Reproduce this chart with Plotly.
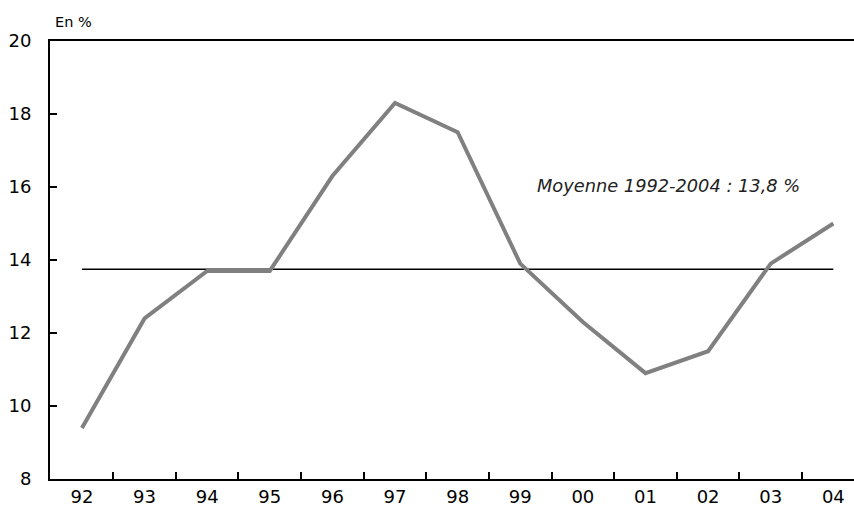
import plotly.graph_objects as go

years = ["92", "93", "94", "95", "96", "97", "98", "99", "00", "01", "02", "03", "04"]
values = [9.4, 12.4, 13.7, 13.7, 16.3, 18.3, 17.5, 13.9, 12.3, 10.9, 11.5, 13.9, 15.0]
mean_value = 13.75
mean_label = "Moyenne 1992-2004 : 13,8 %"
y_ticks = [8, 10, 12, 14, 16, 18, 20]

FONT = "DejaVu Sans, sans-serif"

fig = go.Figure()
fig.add_trace(go.Scatter(
    x=years, y=[mean_value] * len(years), mode="lines",
    line=dict(color="black", width=1.5), hoverinfo="skip", showlegend=False))
fig.add_trace(go.Scatter(
    x=years, y=values, mode="lines",
    line=dict(color="#808080", width=4), showlegend=False))

fig.add_annotation(x=9.36, y=16.03, text="<i>" + mean_label + "</i>", showarrow=False,
                   font=dict(size=17.8, color="#222", family=FONT), xanchor="center", yanchor="middle")
fig.add_annotation(x=0, xref="paper", y=1, yref="paper", text="En %", showarrow=False,
                   xanchor="left", yanchor="bottom", xshift=3, yshift=9,
                   font=dict(size=14.5, color="black", family=FONT))

fig.update_layout(
    width=854, height=520,
    margin=dict(l=50, r=0, t=41, b=41, autoexpand=False),
    paper_bgcolor="white", plot_bgcolor="white",
    font=dict(family=FONT, size=18, color="black"),
    xaxis=dict(type="category", range=[-0.51, 12.33], tickson="boundaries",
               ticks="inside", ticklen=7, tickwidth=2, tickcolor="black",
               showline=True, linecolor="black", linewidth=2, mirror=True,
               showgrid=False, zeroline=False, tickfont=dict(size=18), automargin=False),
    yaxis=dict(range=[8, 20], tickvals=y_ticks, ticks="inside", ticklen=7, tickwidth=2,
               tickcolor="black", showline=True, linecolor="black", linewidth=2,
               showgrid=False, zeroline=False, tickfont=dict(size=18), ticklabelstandoff=13,
               automargin=False),
)

fig.write_html("out.html", config={"displayModeBar": False},
               post_script="document.body.style.margin='0';document.body.style.overflow='hidden';")
